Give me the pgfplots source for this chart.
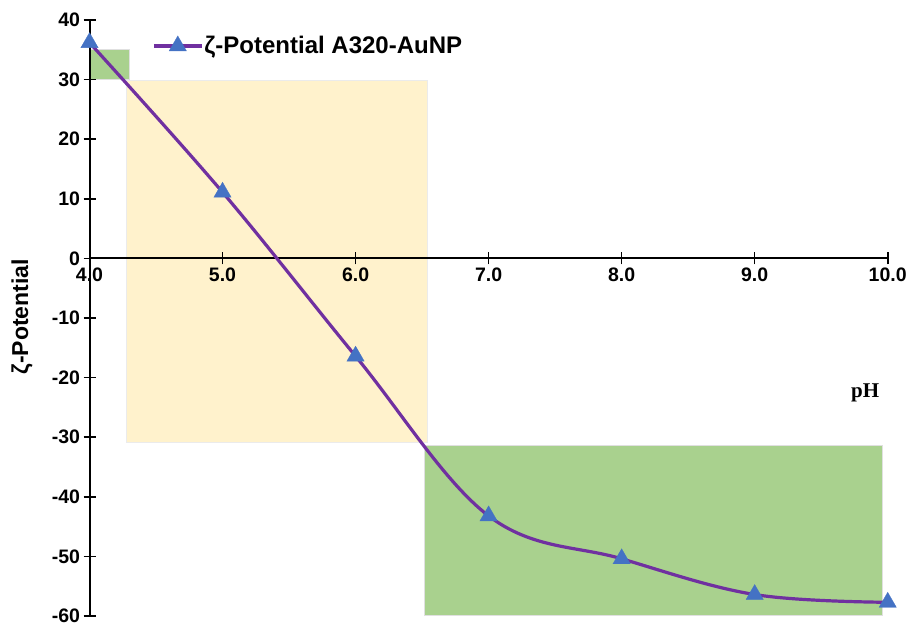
\documentclass[border=0pt]{standalone}
\usepackage{pgfplots}
\pgfplotsset{compat=1.18}
\usepackage{fontspec}
\setmainfont{Liberation Sans}
\newfontfamily\serifbold{Liberation Serif}
\definecolor{lgreen}{HTML}{A9D18E}
\definecolor{lyellow}{HTML}{FFF2CC}
\definecolor{lpurple}{HTML}{7030A0}
\definecolor{lblue}{HTML}{4472C4}
\begin{document}
\begin{tikzpicture}
\begin{axis}[
  name=ax, set layers,
  scale only axis, width=798.2pt, height=596pt,
  xmin=4, xmax=10, ymin=-60, ymax=40,
  axis x line=middle, axis y line=left,
  axis line style={-, line width=2pt, black},
  hide obscured x ticks=false, hide obscured y ticks=false,
  xtick={4,5,6,7,8,9,10}, ytick={-60,-50,-40,-30,-20,-10,0,10,20,30,40},
  major tick length=12pt, tick align=center,
  tick style={line width=1.6pt, black},
  /pgf/number format/assume math mode=true,
  ticklabel style={font=\bfseries\fontsize{19.5}{19.5}\selectfont},
  x tick label style={/pgf/number format/fixed, /pgf/number format/fixed zerofill, /pgf/number format/precision=1},
  clip=false,
  ylabel={ζ-Potential},
  ylabel style={at={(axis description cs:-0.0846,0.502)}, anchor=center, font=\bfseries\fontsize{23}{23}\selectfont},
  legend style={at={(axis description cs:0.0783,0.9565)}, anchor=west, draw=none, fill=none, inner sep=0pt,
    font=\bfseries\fontsize{24}{24}\selectfont, nodes={inner sep=1pt}},
  legend image code/.code={\draw[#1, mark repeat=2, mark phase=2] plot coordinates {(0pt,0pt)(24pt,0pt)(48pt,0pt)};},
]
\begin{pgfonlayer}{axis background}
\filldraw[fill=lgreen, draw=black!12, line width=0.6pt] (axis cs:4,30) rectangle (axis cs:4.3,35);
\filldraw[fill=lyellow, draw=black!8, line width=0.6pt] (axis cs:4.28,-30.9) rectangle (axis cs:6.54,29.9);
\filldraw[fill=lgreen, draw=black!12, line width=0.6pt] (axis cs:6.52,-59.9) rectangle (axis cs:9.96,-31.3);
\end{pgfonlayer}
\addplot[lpurple, line width=3.2pt, smooth, tension=0.6, mark=triangle*, mark size=10pt,
  mark options={fill=lblue, draw=lblue, line width=0.3pt, solid}]
  coordinates {(4,36.2) (5,11.1) (6,-16.4) (7,-43.2) (8,-50.4) (9,-56.4) (10,-57.7)};
\addlegendentry{ζ-Potential A320-AuNP}
\node[font=\serifbold\bfseries\fontsize{21}{21}\selectfont] at (axis cs:9.83,-22.6) {pH};
\end{axis}
\pgfresetboundingbox
\path[use as bounding box] ([shift={(-89.5pt,-13pt)}]ax.south west) rectangle ([shift={(23.3pt,20pt)}]ax.north east);
\end{tikzpicture}
\end{document}
